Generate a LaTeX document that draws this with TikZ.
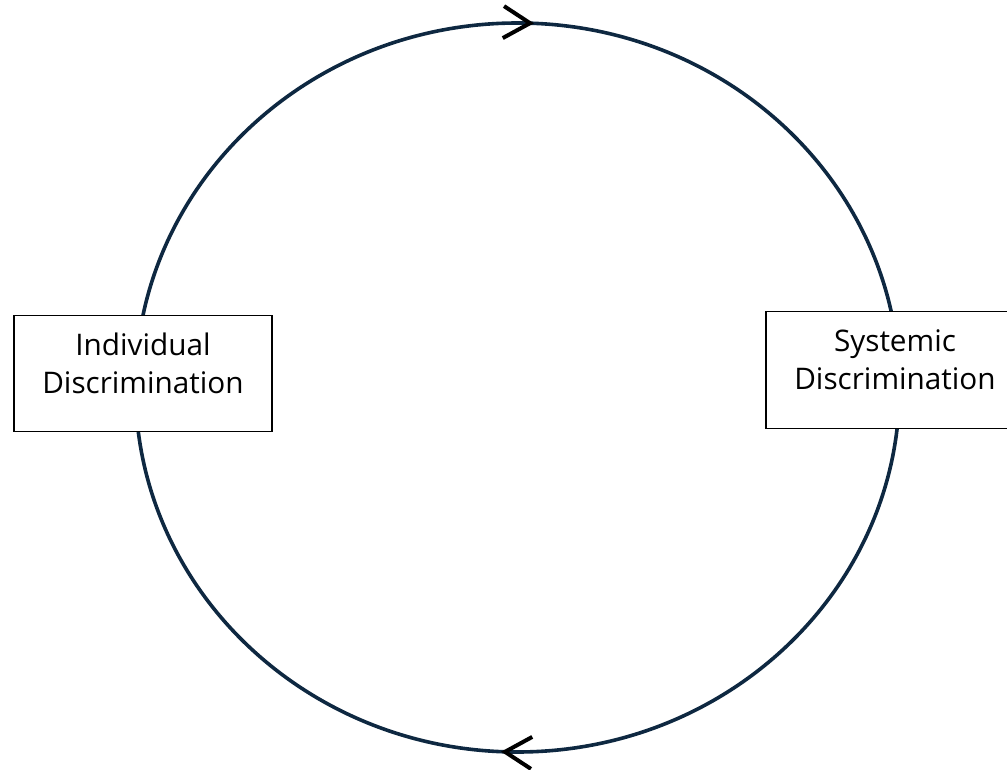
\documentclass[tikz,border=0pt]{standalone}
\usepackage{fontspec}
\setmainfont{Open Sans}
\usetikzlibrary{arrows.meta,decorations.markings}
\definecolor{loopnavy}{HTML}{0E2841}
\tikzset{
  causebox/.style={draw=black, line width=0.9pt, fill=white, align=center,
    minimum width=193.5pt, minimum height=87.5pt, inner sep=0pt,
    text depth=16pt, font=\fontsize{22.3pt}{28.5pt}\selectfont},
  chevron/.tip={Straight Barb[length=20pt, width=24pt, line width=3pt, color=black]}
}
\begin{document}
\begin{tikzpicture}[x=0.75pt, y=-0.75pt]
  \useasboundingbox (0,0) rectangle (1007,770);
  \clip (0,0) rectangle (1007,770);
  \coordinate (hub) at (517.5,387.5);
  % the loop, turning clockwise
  \draw[loopnavy, line width=2.7pt,
    postaction={decorate, decoration={markings,
      mark=at position 0.257 with {\arrow{chevron}},
      mark=at position 0.757 with {\arrow{chevron}}}}]
    (hub) ++(-382,0) arc[start angle=180, end angle=540, x radius=382, y radius=364.5];
  \node[causebox] (indiv) at (143,373.5) {Individual\\Discrimination};
  \node[causebox] (sys) at (895,370) {Systemic\\Discrimination};
\end{tikzpicture}
\end{document}
